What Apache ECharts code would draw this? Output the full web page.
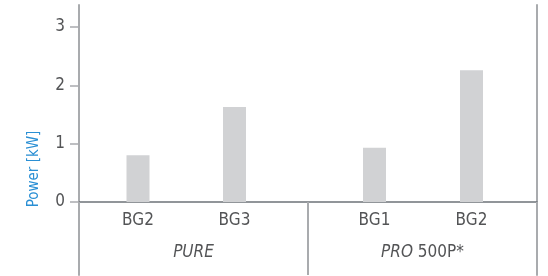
<!DOCTYPE html>
<html>
<head>
<meta charset="utf-8">
<style>
  html, body { margin: 0; padding: 0; background: #fff; }
  #chart { width: 548px; height: 276px; }
</style>
<script src="https://cdn.jsdelivr.net/npm/echarts@6/dist/echarts.min.js"></script>
</head>
<body>
<div id="chart"></div>
<script>
// data
const groupNames = ['PURE', 'PRO 500P*'];
const pureCategories = ['BG2', 'BG3'];
const pureValues = [0.8, 1.63];
const proCategories = ['BG1', 'BG2'];
const proValues = [0.93, 2.26];
const yTicks = [0, 1, 2, 3];
const yName = 'Power [kW]';

const FONT = "'Liberation Sans Narrow', 'Arial Narrow', 'DejaVu Sans Condensed', sans-serif";
const FS = 17;
const TEXT = '#535456';
const FRAME = '#a9abae';
const BASE = '#6e7378';
const BAR = '#d1d2d4';

// frame y range: axis line runs past 0 and 3 like the original
const yMin = -1.2514;
const yMax = 3.3771;

const myChart = echarts.init(document.getElementById('chart'));

// bar grids sit on the baseline, so their axis starts at 0
function hiddenY(idx) {
  return { type: 'value', gridIndex: idx, min: 0, max: yMax, show: false };
}
function labelX(idx, cats, margin, extra) {
  return Object.assign({
    type: 'category',
    gridIndex: idx,
    data: cats,
    axisLine: { show: false },
    axisTick: { show: false },
    axisLabel: { margin: margin, fontSize: FS, color: TEXT, fontFamily: FONT }
  }, extra || {});
}

let option = {
  animation: false,
  grid: [
    // frame: y axis, baseline, group separators
    { left: 79, width: 458, top: 5, bottom: 1, outerBoundsMode: 'none' },
    // PURE bars
    { left: 89.75, width: 193, top: 5, bottom: 74, outerBoundsMode: 'none' },
    // PRO bars
    { left: 326, width: 194, top: 5, bottom: 74, outerBoundsMode: 'none' },
    // group names
    { left: 79, width: 458, top: 5, bottom: 74, outerBoundsMode: 'none' }
  ],
  xAxis: [
    {
      type: 'category',
      gridIndex: 0,
      data: groupNames,
      axisLine: { onZero: true, lineStyle: { color: BASE, width: 1.5 } },
      axisTick: { show: true, length: 73, lineStyle: { color: FRAME, width: 2 } },
      axisLabel: { show: false }
    },
    labelX(1, pureCategories, 10),
    labelX(2, proCategories, 10),
    labelX(3, groupNames, 42, {
      axisLabel: {
        margin: 42,
        fontSize: FS,
        color: TEXT,
        fontFamily: FONT,
        // first word in italics
        formatter: function (v) {
          const parts = v.split(' ');
          const first = '{i|' + parts[0] + '}';
          return parts.length > 1 ? first + ' ' + parts.slice(1).join(' ') : first;
        },
        rich: {
          i: { fontStyle: 'italic', fontSize: FS, color: TEXT, fontFamily: FONT }
        }
      }
    })
  ],
  yAxis: [
    {
      type: 'value',
      gridIndex: 0,
      min: yMin,
      max: yMax,
      splitLine: { show: false },
      axisLine: { show: true, lineStyle: { color: FRAME, width: 2 } },
      axisTick: { show: true, length: 9, customValues: yTicks, lineStyle: { color: FRAME, width: 1.5 } },
      axisLabel: { customValues: yTicks, margin: 14, fontSize: FS, color: TEXT, fontFamily: FONT }
    },
    {
      // right border
      type: 'value',
      gridIndex: 0,
      position: 'right',
      min: yMin,
      max: yMax,
      splitLine: { show: false },
      axisLine: { show: true, lineStyle: { color: FRAME, width: 2 } },
      axisTick: { show: false },
      axisLabel: { show: false }
    },
    hiddenY(1),
    hiddenY(2),
    hiddenY(3)
  ],
  // rotated y-axis title
  graphic: [
    {
      type: 'text',
      x: 34,
      y: 169,
      rotation: Math.PI / 2,
      style: {
        text: yName,
        fill: '#2a8fd4',
        font: '15px ' + FONT,
        align: 'center',
        verticalAlign: 'middle'
      }
    }
  ],
  series: [
    {
      type: 'bar',
      xAxisIndex: 1,
      yAxisIndex: 2,
      data: pureValues,
      barWidth: 23,
      itemStyle: { color: BAR }
    },
    {
      type: 'bar',
      xAxisIndex: 2,
      yAxisIndex: 3,
      data: proValues,
      barWidth: 23,
      itemStyle: { color: BAR }
    }
  ]
};
option && myChart.setOption(option);
</script>
</body>
</html>
